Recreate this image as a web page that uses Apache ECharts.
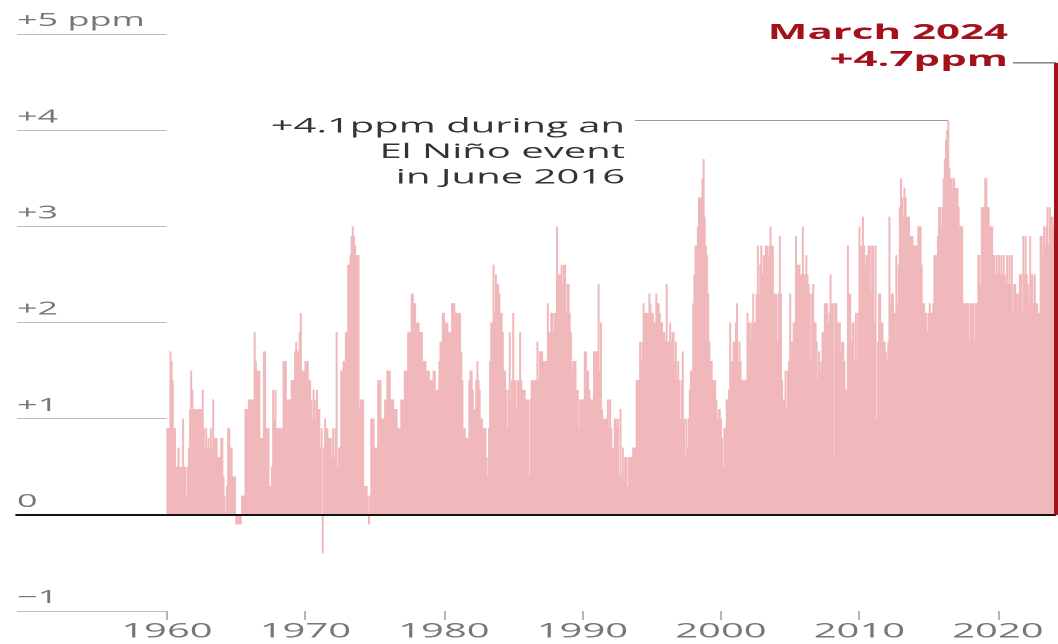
<!DOCTYPE html>
<html>
<head>
<meta charset="utf-8">
<title>CO2 growth</title>
<script src="https://cdn.jsdelivr.net/npm/echarts/dist/echarts.min.js"></script>
<style>
  html, body { margin: 0; padding: 0; background: #fff; overflow: hidden; }
  /* the reference graphic is a narrow chart stretched 2x wide */
  #chart { width: 529px; height: 644px; transform: scaleX(2); transform-origin: 0 0; }
</style>
</head>
<body>
<div id="chart"></div>
<script>
// year-on-year monthly rise in CO2 (ppm), Jan 1960 .. Mar 2024, one row per year
const growth1960s = [
  0.9, 0.9, 0.9, 1.7, 1.6, 1.4, 0.9, 0.9, 0.5, 0.5, 0.7, 0.5,
  0.5, 0.5, 1.0, 0.5, 0.5, 0.2, 0.5, 0.7, 1.1, 1.5, 1.3, 1.1,
  1.1, 1.1, 1.1, 1.1, 1.1, 1.1, 1.1, 1.3, 0.9, 0.7, 0.9, 0.7,
  0.8, 0.7, 0.9, 0.7, 1.2, 0.8, 0.8, 0.8, 0.6, 0.6, 0.6, 0.8,
  0.8, 0.4, 0.2, 0.0, 0.3, 0.9, 0.9, 0.7, 0.7, 0.4, 0.4, 0.4,
  -0.1, -0.1, -0.1, -0.1, -0.1, 0.2, 0.2, 0.2, 1.1, 1.1, 1.1, 1.2,
  1.2, 1.2, 1.2, 1.2, 1.9, 1.6, 1.5, 1.5, 1.5, 0.8, 0.8, 0.8,
  1.7, 1.7, 0.9, 0.9, 0.9, 0.3, 0.3, 0.5, 1.3, 1.0, 1.3, 0.9,
  0.9, 0.9, 0.9, 0.9, 0.9, 1.6, 1.6, 1.6, 1.2, 1.2, 1.2, 1.2,
  1.4, 1.4, 1.4, 1.7, 1.8, 1.7, 1.7, 1.9, 2.1, 1.5, 1.5, 1.5
]
const growth1970s = [
  1.6, 1.6, 1.6, 1.4, 1.4, 1.2, 1.0, 1.3, 1.2, 1.0, 1.3, 1.1,
  1.1, 0.7, 0.9, -0.4, 0.7, 1.0, 0.9, 0.9, 0.8, 0.8, 0.8, 0.6,
  0.9, 0.6, 0.9, 1.9, 0.5, 0.7, 0.7, 1.5, 1.5, 1.6, 1.6, 1.9,
  1.9, 2.6, 2.6, 2.7, 2.9, 3.0, 2.9, 2.8, 2.7, 2.7, 2.7, 1.1,
  1.2, 1.2, 1.2, 0.3, 0.3, 0.3, 0.2, -0.1, 0.2, 1.0, 1.0, 1.0,
  0.7, 0.7, 0.7, 1.4, 1.4, 1.4, 1.0, 1.0, 1.0, 1.2, 1.2, 1.5,
  1.5, 1.5, 1.2, 1.2, 1.2, 1.1, 1.1, 1.1, 0.9, 0.9, 0.9, 1.2,
  1.2, 1.2, 1.5, 1.5, 1.5, 1.9, 1.9, 1.9, 2.3, 2.3, 2.2, 2.2,
  2.0, 2.0, 2.0, 1.9, 1.9, 1.9, 1.6, 1.6, 1.6, 1.5, 1.5, 1.5,
  1.4, 1.4, 1.4, 1.5, 1.5, 1.3, 1.3, 1.3, 1.6, 1.8, 1.8, 2.1
]
const growth1980s = [
  2.1, 2.0, 2.0, 2.0, 1.9, 1.9, 1.9, 2.2, 2.2, 2.2, 2.1, 2.1,
  2.1, 2.1, 2.1, 1.7, 1.4, 0.9, 0.9, 0.8, 0.8, 0.8, 1.4, 1.5,
  1.5, 1.3, 1.1, 1.1, 1.4, 1.6, 1.4, 1.3, 1.0, 1.0, 0.9, 0.9,
  0.9, 0.6, 0.4, 0.9, 1.6, 2.0, 2.0, 2.6, 2.1, 2.5, 2.4, 2.4,
  2.3, 2.1, 2.1, 1.9, 1.5, 1.5, 1.3, 0.9, 1.3, 1.9, 1.2, 1.4,
  2.1, 1.4, 1.4, 1.1, 1.4, 1.4, 1.9, 1.4, 1.3, 1.3, 1.3, 1.2,
  1.2, 1.2, 0.4, 1.2, 1.4, 1.4, 1.4, 1.4, 1.4, 1.8, 1.4, 1.7,
  1.7, 1.7, 1.6, 1.6, 1.6, 1.6, 2.2, 1.9, 1.9, 2.1, 2.1, 1.9,
  2.1, 2.1, 3.0, 2.5, 2.5, 2.5, 2.6, 2.4, 2.6, 2.6, 2.1, 2.4,
  2.4, 2.1, 1.9, 1.5, 1.6, 1.6, 1.6, 1.3, 1.3, 0.9, 1.2, 1.2
]
const growth1990s = [
  1.2, 1.2, 1.7, 1.7, 1.5, 1.5, 1.3, 1.2, 1.2, 1.2, 1.7, 1.7,
  1.7, 1.7, 2.4, 1.5, 2.0, 1.1, 1.0, 1.0, 1.0, 1.0, 1.2, 0.9,
  1.2, 0.9, 0.7, 0.7, 1.0, 1.0, 0.9, 1.0, 0.4, 1.1, 0.4, 0.7,
  0.35, 0.6, 0.6, 0.3, 0.6, 0.6, 0.6, 0.6, 0.7, 0.7, 0.7, 1.4,
  1.4, 1.4, 1.8, 1.6, 1.8, 2.2, 2.1, 2.1, 2.1, 2.1, 2.3, 2.2,
  2.1, 2.1, 2.0, 2.0, 2.3, 2.2, 2.2, 2.1, 2.0, 2.0, 1.9, 1.9,
  1.8, 2.4, 1.8, 1.8, 2.0, 1.8, 1.9, 1.9, 1.6, 1.8, 1.4, 1.6,
  1.4, 1.0, 1.4, 1.7, 1.0, 0.6, 1.0, 0.7, 1.0, 1.3, 1.5, 1.5,
  2.2, 2.5, 2.8, 2.8, 3.0, 3.3, 3.3, 3.3, 3.5, 3.7, 3.1, 2.8,
  2.7, 2.3, 1.8, 1.6, 1.6, 1.4, 1.4, 1.4, 1.2, 1.0, 1.1, 1.1
]
const growth2000s = [
  1.0, 0.8, 0.5, 0.9, 0.9, 1.2, 1.2, 1.3, 2.0, 1.6, 1.6, 1.8,
  1.8, 2.0, 2.2, 1.6, 1.8, 1.6, 1.4, 1.4, 1.4, 1.4, 1.4, 2.1,
  2.0, 2.0, 1.8, 2.0, 2.3, 2.0, 2.0, 2.3, 2.8, 2.3, 2.6, 2.8,
  2.5, 2.7, 2.7, 2.8, 2.8, 2.7, 2.8, 3.0, 2.8, 2.8, 2.3, 2.3,
  2.3, 1.8, 2.3, 2.9, 2.3, 1.4, 1.2, 1.2, 1.5, 1.1, 1.5, 1.6,
  2.3, 1.8, 1.8, 2.0, 2.0, 2.9, 2.6, 2.6, 2.6, 2.5, 2.5, 3.0,
  2.5, 2.5, 2.7, 2.5, 2.4, 2.3, 1.6, 2.3, 2.4, 2.0, 2.0, 1.8,
  1.4, 1.7, 1.5, 1.6, 1.9, 1.9, 2.2, 2.2, 2.2, 2.0, 2.1, 2.5,
  2.2, 2.2, 0.6, 2.2, 2.2, 2.0, 2.0, 2.0, 1.7, 1.8, 1.8, 1.6,
  1.3, 1.3, 2.8, 2.3, 2.3, 1.8, 2.0, 2.0, 1.6, 2.1, 1.6, 2.1
]
const growth2010s = [
  3.0, 2.8, 2.8, 3.1, 2.8, 2.6, 2.7, 2.7, 2.8, 2.8, 2.3, 2.8,
  2.8, 2.0, 2.8, 1.0, 1.8, 2.3, 2.3, 2.0, 2.0, 1.8, 1.8, 1.7,
  1.6, 1.8, 3.1, 2.2, 2.3, 2.3, 2.1, 2.1, 2.7, 2.2, 2.6, 3.2,
  3.5, 3.3, 3.1, 3.4, 3.3, 3.1, 3.1, 3.1, 2.9, 2.9, 2.9, 2.8,
  2.8, 2.8, 2.8, 3.0, 3.0, 3.0, 2.6, 2.2, 2.2, 2.1, 2.1, 1.9,
  2.1, 2.2, 2.1, 2.1, 2.2, 2.7, 2.7, 2.7, 2.9, 3.2, 3.2, 3.0,
  3.2, 3.5, 3.7, 3.9, 4.0, 4.1, 3.6, 3.5, 3.5, 3.4, 3.5, 3.4,
  3.4, 3.4, 3.2, 3.0, 3.0, 3.0, 2.2, 2.2, 2.2, 2.2, 2.2, 1.8,
  2.2, 2.2, 2.2, 2.2, 1.8, 2.2, 2.2, 2.7, 2.7, 2.4, 3.2, 3.2,
  3.2, 3.5, 3.5, 3.2, 3.2, 3.0, 3.0, 3.0, 2.7, 2.7, 2.5, 2.7
]
const growth2020s = [
  2.5, 2.7, 2.5, 2.7, 2.5, 2.7, 2.5, 2.4, 2.7, 2.4, 2.7, 2.4,
  2.7, 2.1, 2.4, 2.4, 2.3, 2.3, 2.3, 2.5, 2.5, 2.1, 2.9, 2.5,
  2.9, 2.5, 2.4, 2.2, 2.9, 2.5, 2.5, 2.2, 2.5, 2.2, 2.2, 2.1,
  2.1, 2.9, 2.9, 2.7, 3.0, 2.8, 3.0, 3.2, 2.8, 3.2, 3.1, 3.1,
  3.0, 3.1, 4.7
]

const decadeLabels = ['1960', '1970', '1980', '1990', '2000', '2010', '2020']
const yTickLabels = ['\u22121', '0', '+1', '+2', '+3', '+4', '+5 ppm']

const elNinoNote = { month: '2016-06', value: 4.1, text: '+4.1ppm during an\nEl Niño event\nin June 2016' }
const latestNote = { month: '2024-03', value: 4.7, text: 'March 2024\n+4.7ppm' }

const PINK = '#f0b8ba'
const RED = '#a3111b'
const FONT = '"Open Sans", "Noto Sans", sans-serif'

const growth = [].concat(growth1960s, growth1970s, growth1980s, growth1990s,
  growth2000s, growth2010s, growth2020s)

const months = []
for (let y = 1960; months.length < growth.length; y++) {
  for (let m = 1; m <= 12 && months.length < growth.length; m++) {
    months.push(y + '-' + String(m).padStart(2, '0'))
  }
}
const lastIdx = growth.length - 1
const isDecade = (i) => i % 120 === 0

const chart = echarts.init(document.getElementById('chart'), null, { renderer: 'canvas', devicePixelRatio: 2 })

chart.setOption({
  animation: false,
  grid: [
    { left: 83.2, right: 0.9, top: 34, bottom: 33 },
    { left: 8.5, width: 74.7, top: 34, bottom: 33 }
  ],
  xAxis: [{
    type: 'category',
    gridIndex: 0,
    data: months,
    axisLine: { show: false, onZero: false },
    axisTick: {
      show: true,
      alignWithLabel: true,
      interval: isDecade,
      length: 9,
      lineStyle: { color: '#b5b5b5', width: 1 }
    },
    axisLabel: {
      interval: isDecade,
      formatter: (v, i) => decadeLabels[i / 120],
      margin: 11,
      fontSize: 20,
      color: '#777',
      fontFamily: FONT
    },
    splitLine: { show: false }
  }, {
    type: 'value',
    gridIndex: 1,
    min: 0,
    max: 1,
    axisLine: { show: true, onZero: true, lineStyle: { color: '#111', width: 2 } },
    axisTick: { show: false },
    axisLabel: { show: false },
    splitLine: { show: false }
  }],
  yAxis: [{
    type: 'value',
    gridIndex: 0,
    min: -1,
    max: 5,
    interval: 1,
    show: false
  }, {
    type: 'value',
    gridIndex: 1,
    min: -1,
    max: 5,
    interval: 1,
    axisLine: { show: false },
    axisTick: { show: false },
    splitLine: { show: true, lineStyle: { color: '#bdbdbd', width: 1 } },
    axisLabel: {
      inside: true,
      margin: 0,
      verticalAlign: 'bottom',
      padding: [0, 0, 4, 0],
      formatter: (v) => yTickLabels[v + 1],
      fontSize: 18,
      color: '#777',
      fontFamily: FONT
    }
  }],
  series: [{
    type: 'bar',
    xAxisIndex: 0,
    yAxisIndex: 0,
    barCategoryGap: '0%',
    itemStyle: { color: PINK },
    data: growth.map((v, i) => i === lastIdx ? { value: v, itemStyle: { color: RED } } : v),
    markLine: {
      silent: true,
      symbol: 'none',
      label: { show: false },
      data: [
        { yAxis: 0, lineStyle: { color: '#111', width: 2, type: 'solid' } },
        // the latest month is drawn as a heavier red stroke over its bar
        [
          { coord: [lastIdx, 0], lineStyle: { color: RED, width: 2, type: 'solid' } },
          { coord: [lastIdx, growth[lastIdx]] }
        ]
      ]
    }
  }]
})

// annotations, anchored on the bars they describe
const elNinoPt = chart.convertToPixel({ seriesIndex: 0 }, [months.indexOf(elNinoNote.month), elNinoNote.value])
const latestPt = chart.convertToPixel({ seriesIndex: 0 }, [months.indexOf(latestNote.month), latestNote.value])

chart.setOption({
  graphic: [
    {
      type: 'line',
      silent: true,
      shape: { x1: 317.5, y1: elNinoPt[1], x2: elNinoPt[0], y2: elNinoPt[1] },
      style: { stroke: '#9a9a9a', lineWidth: 1 }
    },
    {
      type: 'text',
      silent: true,
      x: 312.5,
      y: elNinoPt[1] - 6.5,
      style: {
        text: elNinoNote.text,
        align: 'right',
        verticalAlign: 'top',
        font: '20px ' + FONT,
        lineHeight: 25.5,
        fill: '#333'
      }
    },
    {
      type: 'line',
      silent: true,
      shape: { x1: 506.5, y1: latestPt[1], x2: latestPt[0], y2: latestPt[1] },
      style: { stroke: '#444', lineWidth: 1 }
    },
    {
      type: 'text',
      silent: true,
      x: 504,
      y: latestPt[1] - 43.5,
      style: {
        text: latestNote.text,
        align: 'right',
        verticalAlign: 'top',
        font: 'bold 21px ' + FONT,
        lineHeight: 27,
        fill: RED
      }
    }
  ]
})
</script>
</body>
</html>
